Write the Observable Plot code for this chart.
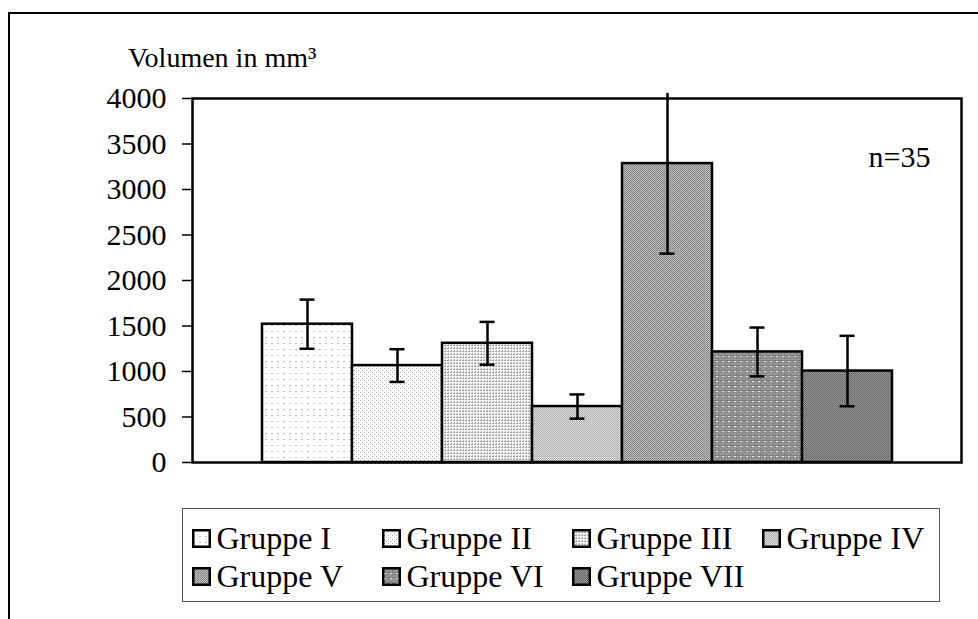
<!DOCTYPE html>
<html>
<head>
<meta charset="utf-8">
<script src="https://cdn.jsdelivr.net/npm/d3@7"></script>
<script src="https://cdn.jsdelivr.net/npm/@observablehq/plot@0.6"></script>
<style>
  html, body { margin: 0; padding: 0; background: #fff; overflow: hidden; }
  body { width: 978px; height: 619px; position: relative; font-family: "Liberation Serif", "Times New Roman", serif; }
  #frame { position: absolute; left: 8px; top: 12px; width: 1100px; height: 800px; border-top: 2.5px solid #000; border-left: 2.5px solid #000; box-sizing: border-box; }
  #chart { position: absolute; left: 0; top: 0; }
  #ytitle { position: absolute; left: 128px; top: 41px; font-size: 28px; line-height: 34px; color: #000; white-space: nowrap; }
  #legend { position: absolute; left: 182px; top: 508px; width: 758px; height: 94px; border: 1.5px solid #555; box-sizing: border-box;
            display: grid; grid-template-columns: 190px 190px 190px 170px; grid-auto-rows: 38px; padding: 10px 0 0 8.5px; }
  .item { display: flex; align-items: center; font-size: 32px; white-space: nowrap; }
  .item svg { margin-right: 6px; flex: none; }
</style>
</head>
<body>
<svg width="0" height="0" style="position:absolute">
  <defs>
    <pattern id="p1" width="6" height="6" patternUnits="userSpaceOnUse">
      <rect width="6" height="6" fill="#fff"/><rect x="1" y="1" width="2" height="1" fill="#b4b4b4"/>
    </pattern>
    <pattern id="p2" width="4" height="4" patternUnits="userSpaceOnUse">
      <rect width="4" height="4" fill="#fff"/><rect x="0" y="0" width="1" height="1" fill="#a8a8a8"/><rect x="2" y="2" width="1" height="1" fill="#a8a8a8"/>
    </pattern>
    <pattern id="p3" width="3" height="3" patternUnits="userSpaceOnUse">
      <rect width="3" height="3" fill="#f4f4f4"/><rect x="0" y="0" width="2" height="1" fill="#a0a0a0"/><rect x="1" y="2" width="1" height="1" fill="#b8b8b8"/>
    </pattern>
    <pattern id="p4" width="2" height="2" patternUnits="userSpaceOnUse">
      <rect width="2" height="2" fill="#e0e0e0"/><rect x="0" y="0" width="1" height="1" fill="#a4a4a4"/><rect x="1" y="1" width="1" height="1" fill="#b4b4b4"/>
    </pattern>
    <pattern id="p5" width="2" height="2" patternUnits="userSpaceOnUse">
      <rect width="2" height="2" fill="#c0c0c0"/><rect x="0" y="0" width="1" height="1" fill="#7c7c7c"/><rect x="1" y="1" width="1" height="1" fill="#8c8c8c"/>
    </pattern>
    <pattern id="p6" width="6" height="5" patternUnits="userSpaceOnUse">
      <rect width="6" height="5" fill="#969696"/>
      <rect x="0" y="0" width="6" height="1" fill="#7c7c7c"/><rect x="1" y="2" width="1" height="1" fill="#6c6c6c"/><rect x="4" y="3" width="1" height="1" fill="#6c6c6c"/>
      <rect x="2" y="1" width="2" height="1" fill="#e8e8e8"/>
    </pattern>
    <pattern id="p7" width="2" height="2" patternUnits="userSpaceOnUse">
      <rect width="2" height="2" fill="#949494"/><rect x="0" y="0" width="1" height="1" fill="#646464"/><rect x="1" y="1" width="1" height="1" fill="#707070"/>
    </pattern>
  </defs>
</svg>
<div id="frame"></div>
<div id="chart"></div>
<div id="ytitle">Volumen in mm³</div>
<div id="legend"></div>
<script>
// ---- data ----
const groups = ["Gruppe I", "Gruppe II", "Gruppe III", "Gruppe IV", "Gruppe V", "Gruppe VI", "Gruppe VII"];
const means  = [1520, 1065, 1310, 615, 3285, 1215, 1005];
const sds    = [270, 180, 235, 133, 990, 268, 387];
const patterns = ["p1", "p2", "p3", "p4", "p5", "p6", "p7"];
const yTicks = [0, 500, 1000, 1500, 2000, 2500, 3000, 3500, 4000];
const yMax = 4000;
const note = "n=35";

const data = groups.map((g, i) => ({
  group: g, mean: means[i], lo: means[i] - sds[i], hi: means[i] + sds[i],
  fill: `url(#${patterns[i]})`
}));
const errTopLimit = yMax * 1.014; // error line running past the top of the plot area is cut just above it

const fontFamily = '"Liberation Serif", "Times New Roman", serif';

const chart = Plot.plot({
  width: 978,
  height: 500,
  marginLeft: 192,
  marginRight: 17,
  marginTop: 98,
  marginBottom: 38,
  style: { fontFamily, fontSize: "30px", color: "#000", background: "transparent", overflow: "visible" },
  x: { type: "band", domain: groups, paddingInner: 0, paddingOuter: 0.75, axis: null },
  y: { domain: [0, yMax] },
  color: { type: "identity" },
  marks: [
    Plot.barY(data, { x: "group", y: "mean", fill: "fill", stroke: "#000", strokeWidth: 2.5 }),
    Plot.ruleX(data, { x: "group", y1: "lo", y2: d => Math.min(d.hi, errTopLimit), stroke: "#000", strokeWidth: 2.5 }),
    Plot.tickY(data, { x: "group", y: "lo", stroke: "#000", strokeWidth: 2.5, inset: 37.5 }),
    Plot.tickY(data.filter(d => d.hi <= yMax), { x: "group", y: "hi", stroke: "#000", strokeWidth: 2.5, inset: 37.5 }),
    Plot.frame({ stroke: "#000", strokeWidth: 2.5 }),
    Plot.axisY({ ticks: yTicks, tickSize: 10, tickPadding: 16, tickFormat: d3.format("d"), strokeWidth: 1.5, label: null, fontSize: 30 }),
    Plot.text([note], { frameAnchor: "top-right", dx: -31, dy: 47, text: d => d, fontSize: 30, textAnchor: "end" })
  ]
});
document.getElementById("chart").appendChild(chart);

// ---- legend ----
const legend = d3.select("#legend");
groups.forEach((g, i) => {
  const item = legend.append("div").attr("class", "item");
  const s = item.append("svg").attr("width", 19).attr("height", 19);
  s.append("rect").attr("x", 1.25).attr("y", 1.25).attr("width", 16.5).attr("height", 16.5)
    .attr("fill", `url(#${patterns[i]})`).attr("stroke", "#000").attr("stroke-width", 2.5);
  item.append("span").text(g);
});
</script>
</body>
</html>
